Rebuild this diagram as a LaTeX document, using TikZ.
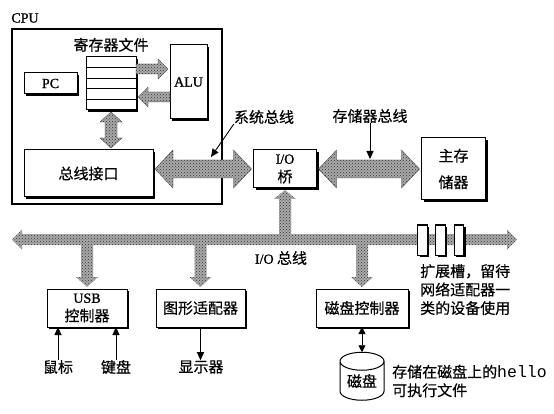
\documentclass[tikz,border=0pt]{standalone}
\usepackage{fontspec}
\setmainfont[FakeBold=1.2]{Liberation Serif}
\setmonofont{Liberation Mono}
\newfontfamily\cjkfont[FakeBold=.5]{Noto Sans CJK SC}
\usepackage{tikz}
\usetikzlibrary{shapes.geometric, arrows.meta, positioning, calc, patterns, shadows}
\definecolor{busgray}{RGB}{170, 170, 170}
\definecolor{busspeck}{RGB}{50, 50, 50}
\newcommand{\lat}[1]{{\rmfamily\fontsize{14}{18}\selectfont #1}}
% fat arrow with two heads: style, from, to, half shaft, half head, head length
\newcommand{\busboth}[6][]{%
    \coordinate (ta) at ($(#2)!2pt!(#3)$);
    \coordinate (tb) at ($(#3)!2pt!(#2)$);
    \path[busfill, #1] (ta)
        -- ($(ta)!#6!(tb)!#5!90:(tb)$) -- ($(ta)!#6!(tb)!#4!90:(tb)$)
        -- ($(tb)!#6!(ta)!#4!-90:(ta)$) -- ($(tb)!#6!(ta)!#5!-90:(ta)$)
        -- (tb)
        -- ($(tb)!#6!(ta)!#5!90:(ta)$) -- ($(tb)!#6!(ta)!#4!90:(ta)$)
        -- ($(ta)!#6!(tb)!#4!-90:(tb)$) -- ($(ta)!#6!(tb)!#5!-90:(tb)$)
        -- cycle;
}
% fat arrow with one head
\newcommand{\busone}[6][]{%
    \coordinate (tb) at ($(#3)!2pt!(#2)$);
    \path[busfill, #1] ($(#2)!#4!90:(tb)$)
        -- ($(tb)!#6!(#2)!#4!-90:(#2)$) -- ($(tb)!#6!(#2)!#5!-90:(#2)$)
        -- (tb)
        -- ($(tb)!#6!(#2)!#5!90:(#2)$) -- ($(tb)!#6!(#2)!#4!90:(#2)$)
        -- ($(#2)!#4!-90:(tb)$) -- cycle;
}
\tikzset{
    busfill/.style={preaction={fill=busgray}, pattern=crosshatch dots, pattern color=busspeck, draw=busspeck, line width=.3pt},
    boxed/.style={rectangle, draw=black, fill=white, line width=1pt, outer sep=0pt, inner sep=0pt, align=center,
        drop shadow={shadow xshift=2.2pt, shadow yshift=-2.2pt, fill=black, opacity=1}},
    caption/.style={inner sep=0pt, align=center}
}
\begin{document}
\begin{tikzpicture}[
    x=1pt, y=-1pt,
    every node/.style={font=\cjkfont\fontsize{15}{18.5}\selectfont},
    thinarrow/.style={-{Triangle[length=8pt, width=7pt]}, line width=.9pt},
    botharrow/.style={{Triangle[length=7pt, width=7pt]}-{Triangle[length=7pt, width=7pt]}, line width=.9pt}
]
    \useasboundingbox (0,0) rectangle (554,414);

    % CPU
    \node[rectangle, draw=black, line width=1.5pt, anchor=north west, minimum width=210pt, minimum height=175pt, outer sep=0pt] (cpu) at (12,29) {};
    \node[caption] (cpulabel) at (25,18) {\lat{CPU}};
    \node[boxed, minimum width=50pt, minimum height=53pt] (regs) at (111,83.5) {};
    \foreach \i in {1,...,4}
        \draw[line width=.8pt] ($(regs.north west)!\i/5!(regs.south west)$) -- ($(regs.north east)!\i/5!(regs.south east)$);
    \node[caption, above=5pt of regs] (regslabel) {寄存器文件};
    \node[boxed, minimum width=53pt, minimum height=21pt, left=9pt of regs] (pc) {\lat{PC}};
    \node[boxed, minimum width=37pt, minimum height=74pt, right=34pt of regs, yshift=1.5pt] (alu) {\lat{ALU}};
    \node[boxed, minimum width=129pt, minimum height=47pt] (bif) at (88.5,173.5) {总线接口};

    % Bridge and memory
    \node[boxed, minimum width=63pt, minimum height=38pt] (bridge) at (285,169) {\lat{I/O}\\桥};
    \node[boxed, minimum width=64pt, minimum height=62pt, right=105pt of bridge] (mem) {主存\\[8pt]储器};
    \node[caption] (syslabel) at (264,117) {系统总线};
    \node[caption] (memlabel) at (370,116) {存储器总线};

    % Lower row
    \node[boxed, minimum width=80pt, minimum height=38pt] (usb) at (87,308) {\lat{USB}\\控制器};
    \node[boxed, minimum width=89pt, minimum height=38pt, right=29pt of usb] (gfx) {图形适配器};
    \node[boxed, minimum width=92pt, minimum height=38pt, right=71pt of gfx] (dctl) {磁盘控制器};
    \node[caption] (mouse) at (58,367) {鼠标};
    \node[caption] (keys) at (116,367) {键盘};
    \node[caption] (screen) at (201,367) {显示器};
    \node[cylinder, shape border rotate=90, aspect=.6, draw=black, fill=white, line width=1pt, minimum width=44pt, minimum height=48pt, inner sep=0pt, outer sep=0pt] (disk) at (362,381) {\raisebox{-6pt}{磁盘}};
    \node[caption, anchor=west, align=left] (hello) at (392,381) {存储在磁盘上的{\ttfamily\fontsize{16.5}{18.5}\selectfont hello}\\可执行文件};
    \node[caption, anchor=north west, align=left] (slotlabel) at (420,264) {扩展槽，留待\\网络适配器一\\类的设备使用};
    \node[caption] (iolabel) at (281,258) {\lat{I/O} 总线};

    % Fat buses
    \coordinate (buswest) at (10,239.5);
    \coordinate (buseast) at (519,239.5);
    \busone[draw=none]{bridge.south |- buseast}{bridge.south}{6pt}{11pt}{9pt}
    \busone[draw=none]{usb.north |- buseast}{usb.north}{6pt}{11pt}{10pt}
    \busone[draw=none]{gfx.north |- buseast}{gfx.north}{6pt}{11pt}{10pt}
    \busone[draw=none]{dctl.north |- buseast}{dctl.north}{6pt}{11pt}{10pt}
    \busboth[draw=none]{buswest}{buseast}{5.5pt}{10pt}{10pt}
    \busboth{bif.east |- bridge.west}{bridge.west}{9pt}{19pt}{18pt}
    \busboth{bridge.east}{mem.west |- bridge.east}{9pt}{19pt}{18pt}
    \busboth{regs.south}{regs.south |- bif.north}{6pt}{11pt}{10pt}
    \coordinate (regsout) at ([yshift=14.5pt]regs.east);
    \coordinate (aluback) at ([yshift=-13.5pt]regs.east);
    \busone{regsout}{regsout -| alu.west}{5pt}{10pt}{10pt}
    \busone{aluback -| alu.west}{aluback}{5pt}{10pt}{10pt}

    % Expansion slots
    \foreach \n/\x in {1/422.5, 2/440.5, 3/459}
        \node[boxed, minimum width=9.5pt, minimum height=30pt] (slot\n) at (\x,240) {};

    % Thin arrows
    \coordinate (sysbus) at (211,157);
    \coordinate (membus) at (370,159);
    \draw[thinarrow] (syslabel.south west) -- (sysbus);
    \draw[thinarrow] (memlabel.south) -- (membus);
    \draw[thinarrow] (mouse.north) -- (usb.south -| mouse.north);
    \draw[thinarrow] (keys.north) -- (usb.south -| keys.north);
    \draw[thinarrow] (gfx.south) -- (screen.north -| gfx.south);
    \draw[botharrow] (dctl.south) -- (disk.top);
\end{tikzpicture}
\end{document}
